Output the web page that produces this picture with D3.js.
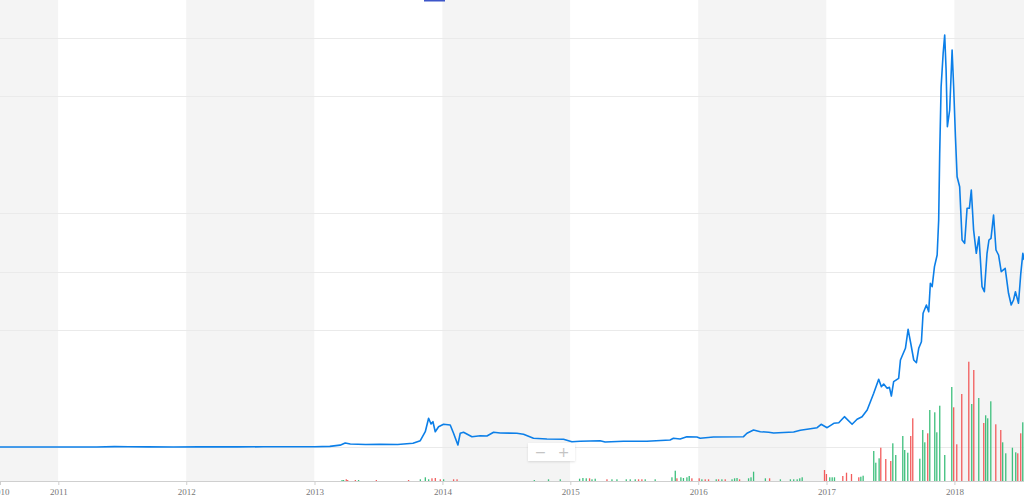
<!DOCTYPE html>
<html>
<head>
<meta charset="utf-8">
<script src="https://cdn.jsdelivr.net/npm/d3@7"></script>
<style>
html,body{margin:0;padding:0;background:#fff;overflow:hidden}
svg{display:block}
</style>
</head>
<body>
<svg id="chart" width="1024" height="498"></svg>
<script>
// ---- data (decimal years) ----
const lineYears = [2010.544,2010.75,2010.9,2011.1,2011.3,2011.44,2011.55,2011.7,2011.9,2012.1,2012.4,2012.6,2012.8,2013.0,2013.12,2013.2,2013.24,2013.28,2013.4,2013.51,2013.65,2013.77,2013.827,2013.866,2013.892,2013.911,2013.926,2013.944,2013.97,2014.009,2014.061,2014.087,2014.121,2014.139,2014.165,2014.231,2014.296,2014.348,2014.4,2014.452,2014.582,2014.634,2014.712,2014.817,2014.947,2015.012,2015.077,2015.233,2015.272,2015.415,2015.598,2015.78,2015.806,2015.858,2015.911,2015.989,2016.015,2016.119,2016.353,2016.38,2016.431,2016.484,2016.549,2016.588,2016.744,2016.796,2016.927,2016.958,2017.005,2017.057,2017.096,2017.14,2017.2,2017.239,2017.278,2017.318,2017.369,2017.408,2017.429,2017.447,2017.474,2017.492,2017.507,2017.525,2017.564,2017.578,2017.617,2017.638,2017.661,2017.682,2017.703,2017.721,2017.742,2017.755,2017.781,2017.799,2017.812,2017.826,2017.844,2017.865,2017.877,2017.885,2017.896,2017.912,2017.924,2017.935,2017.945,2017.963,2017.982,2017.994,2018.008,2018.021,2018.041,2018.06,2018.08,2018.099,2018.117,2018.132,2018.15,2018.171,2018.192,2018.216,2018.234,2018.255,2018.27,2018.286,2018.306,2018.325,2018.345,2018.366,2018.397,2018.423,2018.444,2018.462,2018.477,2018.501,2018.519,2018.535,2018.545];
const linePrices = [0.07,0.1,0.25,0.8,3.5,18,14,5,3,5.5,5,10,11,13.5,30,90,196,147,120,132,120,181,308,748,1403,1125,1237,748,993,1110,1076,670,98,670,719,504,553,538,719,685,670,621,425,391,377,259,279,308,245,279,279,342,425,391,504,489,425,489,504,670,831,748,719,685,734,817,944,1110,944,1159,1188,1482,1110,1355,1482,1809,2626,3311,2949,3081,2870,2919,2494,3193,3359,4254,4826,5756,4988,4254,4122,4826,5149,6538,6944,6616,8005,7839,8817,9389,11100,14362,17619,19252,20147,18435,15663,16479,19413,17619,15174,13218,12729,10122,9961,11672,11672,12567,10611,9472,10284,7839,7594,9472,10122,10205,11345,9633,9389,8572,8738,7516,6944,7188,7594,7027,8494,9472,9144];

const volYears = [2013.215,2013.227,2013.248,2013.259,2013.319,2013.344,2013.483,2013.735,2013.827,2013.866,2013.892,2013.918,2013.944,2013.983,2014.009,2014.087,2014.114,2014.718,2014.829,2014.921,2015.072,2015.098,2015.124,2015.15,2015.169,2015.194,2015.286,2015.325,2015.364,2015.437,2015.468,2015.507,2015.533,2015.559,2015.585,2015.663,2015.794,2015.82,2015.833,2015.864,2015.884,2015.911,2015.929,2015.95,2016.007,2016.028,2016.054,2016.08,2016.14,2016.158,2016.184,2016.21,2016.263,2016.283,2016.302,2016.322,2016.392,2016.411,2016.431,2016.523,2016.556,2016.64,2016.718,2016.744,2016.771,2016.791,2016.81,2016.984,2016.999,2017.025,2017.044,2017.062,2017.127,2017.156,2017.195,2017.252,2017.268,2017.286,2017.369,2017.385,2017.411,2017.424,2017.463,2017.502,2017.518,2017.541,2017.596,2017.611,2017.635,2017.658,2017.674,2017.729,2017.752,2017.768,2017.791,2017.807,2017.846,2017.862,2017.885,2017.924,2017.979,2017.994,2018.018,2018.057,2018.112,2018.135,2018.151,2018.19,2018.229,2018.244,2018.26,2018.284,2018.323,2018.362,2018.377,2018.401,2018.453,2018.479,2018.495,2018.518,2018.534];
const volValues = [1,1,1.7,1,1,1,1,1,1.7,3.7,1.7,2.7,3,1.7,1.7,1.7,1.7,1,1.7,1.7,2.3,3,2.7,2.7,1.7,2.3,1.7,1.7,1.7,1.7,1.7,1.7,1.7,1.7,1.7,1.7,3.7,10.3,2.7,3.7,3,3.7,5,2.7,2.7,1.7,1.7,1.7,1.7,1.7,1.7,1.7,1.7,2.7,3,1.7,2.7,3.7,9.3,2.7,2.7,1.7,1.7,1.7,1.7,2.7,3.7,11,7,3.7,3.7,3.7,5,8.3,7,3.7,4.3,5.3,30,18.3,22.7,33.3,22,20,37.7,26,45,31,28.3,45,62.7,22.3,51,38.7,47.7,71,68.7,48.7,75.3,26,94,73.7,36.7,87,119.3,77,111,83,58,65.7,62.7,79.7,56.7,51,38.7,27.7,33.3,28.7,27.7,47.7,58.7];
const volUp = [1,1,0,0,0,1,0,0,1,1,1,0,0,0,1,0,0,1,1,1,1,1,1,0,1,1,0,1,1,1,1,1,0,0,1,1,1,1,0,1,1,1,1,0,0,1,0,0,1,0,1,0,1,1,1,0,1,1,1,1,0,1,1,1,1,1,1,0,0,1,1,1,0,0,0,0,1,1,1,1,1,0,0,0,1,1,1,1,1,0,0,1,1,1,0,1,1,1,1,1,1,0,0,0,0,1,0,1,0,1,1,1,0,0,1,1,1,1,0,0,1];

const yearLabels = ["2010","2011","2012","2013","2014","2015","2016","2017","2018"];
const gridValues = [0,5714,8571,11429,17143,20000];

// ---- helpers ----
function decToDate(v){
  const yr = Math.floor(v);
  const a = Date.UTC(yr,0,1), b = Date.UTC(yr+1,0,1);
  return new Date(a + (v-yr)*(b-a));
}

const W = 1024, H = 498;
const svg = d3.select("#chart");

const x = d3.scaleUtc().domain([decToDate(2010.544), decToDate(2018.544)]).range([0, W]);
const y = d3.scaleLinear().domain([0, 20000]).range([447, 38]);
const yv = d3.scaleLinear().domain([0, 120]).range([481, 361]);

// year bands
const yearStarts = yearLabels.map(s => new Date(Date.UTC(+s,0,1)));
svg.append("g").selectAll("rect").data(yearStarts).join("rect")
  .attr("x", d => Math.max(0, x(d)))
  .attr("y", 0)
  .attr("width", d => Math.min(W, x(new Date(Date.UTC(d.getUTCFullYear()+1,0,1)))) - Math.max(0, x(d)))
  .attr("height", 481)
  .attr("fill", d => d.getUTCFullYear() % 2 === 0 ? "#f4f4f4" : "#ffffff");

// grid lines
svg.append("g").selectAll("line").data(gridValues).join("line")
  .attr("x1", 0).attr("x2", W)
  .attr("y1", d => Math.round(y(d)) + 0.5).attr("y2", d => Math.round(y(d)) + 0.5)
  .attr("stroke", "#eaeaea").attr("stroke-width", 1);

// volume bars
const vol = volYears.map((t,i) => ({date: decToDate(t), v: volValues[i], up: volUp[i]}));
svg.append("g").selectAll("rect").data(vol).join("rect")
  .attr("x", d => x(d.date) - 0.6)
  .attr("width", 1.3)
  .attr("y", d => yv(d.v))
  .attr("height", d => yv(0) - yv(d.v))
  .attr("fill", d => d.up ? "#3dbf7c" : "#f25c5c");

// axis
const tickDates = yearStarts.slice(1);
const axisG = svg.append("g").attr("transform", "translate(0,481)");
axisG.append("line").attr("x1",0).attr("x2",W).attr("y1",0.5).attr("y2",0.5).attr("stroke","#cfcfcf");
const axis = d3.axisBottom(x).tickValues([x.domain()[0], ...tickDates])
  .tickFormat((d,i) => yearLabels[i]).tickSize(4).tickPadding(4);
axisG.call(axis);
axisG.select(".domain").remove();
axisG.selectAll(".tick line").attr("stroke","#cfcfcf");
axisG.selectAll(".tick text")
  .attr("fill","#777").attr("font-family","'Liberation Serif', serif").attr("font-size","9px");

// price line
const pts = lineYears.map((t,i) => ({date: decToDate(t), v: linePrices[i]}));
svg.append("path").datum(pts)
  .attr("fill","none").attr("stroke","#0c7fe8").attr("stroke-width",1.6)
  .attr("stroke-linejoin","round")
  .attr("d", d3.line().x(d => x(d.date)).y(d => y(d.v)));

// zoom control
const defs = svg.append("defs");
const f = defs.append("filter").attr("id","sh").attr("x","-20%").attr("y","-30%").attr("width","140%").attr("height","170%");
f.append("feDropShadow").attr("dx",0).attr("dy",1).attr("stdDeviation",1).attr("flood-color","#000").attr("flood-opacity",0.12);
const zc = svg.append("g");
zc.append("rect").attr("x",528).attr("y",443).attr("width",47).attr("height",18).attr("fill","#fff").attr("filter","url(#sh)");
zc.append("text").attr("x",540.5).attr("y",457).attr("text-anchor","middle").attr("font-family","'DejaVu Sans', sans-serif").attr("font-size","14px").attr("fill","#c4c4c4").text("−");
zc.append("text").attr("x",563.5).attr("y",457).attr("text-anchor","middle").attr("font-family","'DejaVu Sans', sans-serif").attr("font-size","14px").attr("fill","#c4c4c4").text("+");

// top indicator
svg.append("rect").attr("x",424).attr("y",0).attr("width",21).attr("height",1.5).attr("fill","#3d56c9");
</script>
</body>
</html>
